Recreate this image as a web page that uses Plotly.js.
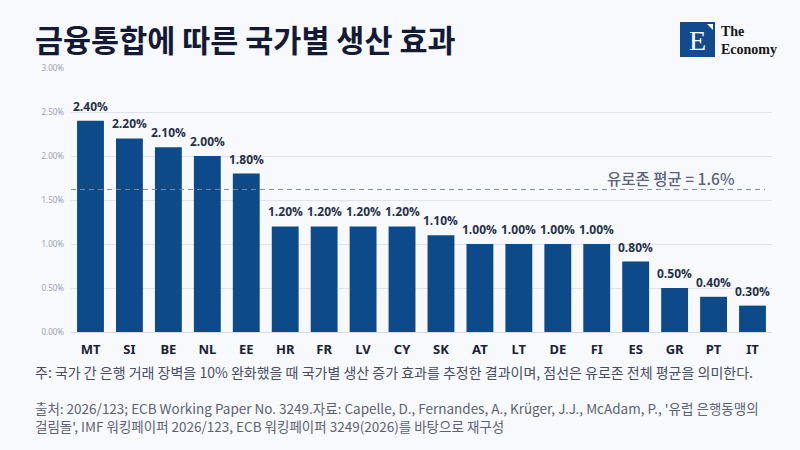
<!DOCTYPE html>
<html>
<head>
<meta charset="utf-8">
<script src="https://cdn.plot.ly/plotly-3.0.1.min.js"></script>
<style>
  html, body { margin: 0; padding: 0; background: #f8f9fd; }
  #chart { width: 800px; height: 450px; }
</style>
</head>
<body>
<div id="chart"></div>
<script>
// ── Data ─────────────────────────────────────
const countries = ["MT", "SI", "BE", "NL", "EE", "HR", "FR", "LV", "CY",
                   "SK", "AT", "LT", "DE", "FI", "ES", "GR", "PT", "IT"];
const outputEffect = [2.4, 2.2, 2.1, 2.0, 1.8, 1.2, 1.2, 1.2, 1.2,
                      1.1, 1.0, 1.0, 1.0, 1.0, 0.8, 0.5, 0.4, 0.3];
const eurozoneAvg = 1.62;
const avgLabel = "유로존 평균 = 1.6%";
const yTicks = [0, 0.5, 1, 1.5, 2, 2.5, 3];

const titleText = "금융통합에 따른 국가별 생산 효과";
const noteText = "주: 국가 간 은행 거래 장벽을 10% 완화했을 때 국가별 생산 증가 효과를 추정한 결과이며, 점선은 유로존 전체 평균을 의미한다.";
const sourceLines = [
  "출처: 2026/123; ECB Working Paper No. 3249.자료: Capelle, D., Fernandes, A., Krüger, J.J., McAdam, P., '유럽 은행동맹의",
  "걸림돌', IMF 워킹페이퍼 2026/123, ECB 워킹페이퍼 3249(2026)를 바탕으로 재구성",
];

// ── Pixel → paper helpers ─────────────────────
const M = { l: 71, r: 28, t: 68, b: 118 };
const PW = 800 - M.l - M.r;
const PH = 450 - M.t - M.b;
const px = (x) => (x - M.l) / PW;
const py = (y) => (450 - M.b - y) / PH;

const FONT = "'Noto Sans', 'Noto Sans CJK KR', sans-serif";
const KFONT = "'Noto Sans CJK KR', 'Noto Sans', sans-serif";
const SERIF = "'Liberation Serif', 'DejaVu Serif', serif";

const trace = {
  type: "bar",
  x: countries,
  y: outputEffect,
  marker: { color: "#0c4a8a" },
  hoverinfo: "skip",
};

// value labels above each bar
const valueLabels = countries.map((c, i) => ({
  x: c,
  y: outputEffect[i],
  xref: "x",
  yref: "y",
  text: outputEffect[i].toFixed(2) + "%",
  showarrow: false,
  yanchor: "bottom",
  yshift: 4,
  font: { family: "'Open Sans', sans-serif", size: 12, color: "#26314a", weight: 700 },
}));

// source lines, one annotation each
const sourceNotes = sourceLines.map((t, i) => ({
  text: t,
  xref: "paper", yref: "paper",
  x: px(33), y: py(408 + i * 18), xanchor: "left", yanchor: "middle",
  showarrow: false,
  font: { family: KFONT, size: 13.5, color: "#5c6274" },
}));

const layout = {
  width: 800,
  height: 450,
  margin: M,
  paper_bgcolor: "#f8f9fd",
  plot_bgcolor: "#f8f9fd",
  bargap: 0.31,
  showlegend: false,
  font: { family: KFONT },
  xaxis: {
    showgrid: false,
    showline: false,
    ticks: "",
    ticklabelstandoff: 8,
    tickfont: { family: FONT, size: 13, color: "#1a2236", weight: 700 },
    fixedrange: true,
  },
  yaxis: {
    range: [0, 3],
    tickvals: yTicks,
    ticktext: yTicks.map((v) => v.toFixed(2) + "%"),
    gridcolor: "#e0e3ea",
    gridwidth: 1,
    zeroline: true,
    zerolinecolor: "#d6d9e2",
    zerolinewidth: 1,
    ticklabelstandoff: 6,
    tickfont: { family: FONT, size: 8, color: "#9ba1b0" },
    fixedrange: true,
  },
  shapes: [
    {
      type: "line",
      xref: "paper", yref: "y",
      x0: 0, x1: px(765), y0: eurozoneAvg, y1: eurozoneAvg,
      line: { color: "#7f889d", width: 1, dash: "5px,4px" },
    },
    // logo
    {
      type: "rect",
      xref: "paper", yref: "paper",
      x0: px(680), x1: px(715), y0: py(22), y1: py(57),
      fillcolor: "#134a8c", line: { width: 0 },
    },
    {
      type: "path",
      xref: "paper", yref: "paper",
      path: `M ${px(707)},${py(24)} L ${px(713)},${py(24)} L ${px(713)},${py(30)} Z`,
      fillcolor: "#ffffff", line: { width: 0 },
    },
  ],
  annotations: valueLabels.concat(sourceNotes, [
    {
      text: "<b>" + titleText + "</b>",
      xref: "paper", yref: "paper",
      x: px(33), y: py(39), xanchor: "left", yanchor: "middle",
      showarrow: false,
      font: { family: KFONT, size: 30.5, color: "#141a33" },
    },
    {
      text: avgLabel,
      xref: "paper", yref: "paper",
      x: px(736), y: py(178), xanchor: "right", yanchor: "middle",
      showarrow: false,
      font: { family: KFONT, size: 15.5, color: "#5b647a", weight: 500 },
    },
    {
      text: noteText,
      xref: "paper", yref: "paper",
      x: px(33), y: py(372), xanchor: "left", yanchor: "middle",
      showarrow: false,
      font: { family: KFONT, size: 14, color: "#474e64" },
    },
    // logo text
    {
      text: "E",
      xref: "paper", yref: "paper",
      x: px(697), y: py(40), xanchor: "center", yanchor: "middle",
      showarrow: false,
      font: { family: SERIF, size: 28, color: "#ffffff" },
    },
    {
      text: "The<br>Economy",
      xref: "paper", yref: "paper",
      x: px(719), y: py(41), xanchor: "left", yanchor: "middle",
      align: "left",
      showarrow: false,
      font: { family: SERIF, size: 14, color: "#151515", weight: 600 },
    },
  ]),
};

Plotly.newPlot("chart", [trace], layout, { displayModeBar: false, staticPlot: true });
</script>
</body>
</html>
